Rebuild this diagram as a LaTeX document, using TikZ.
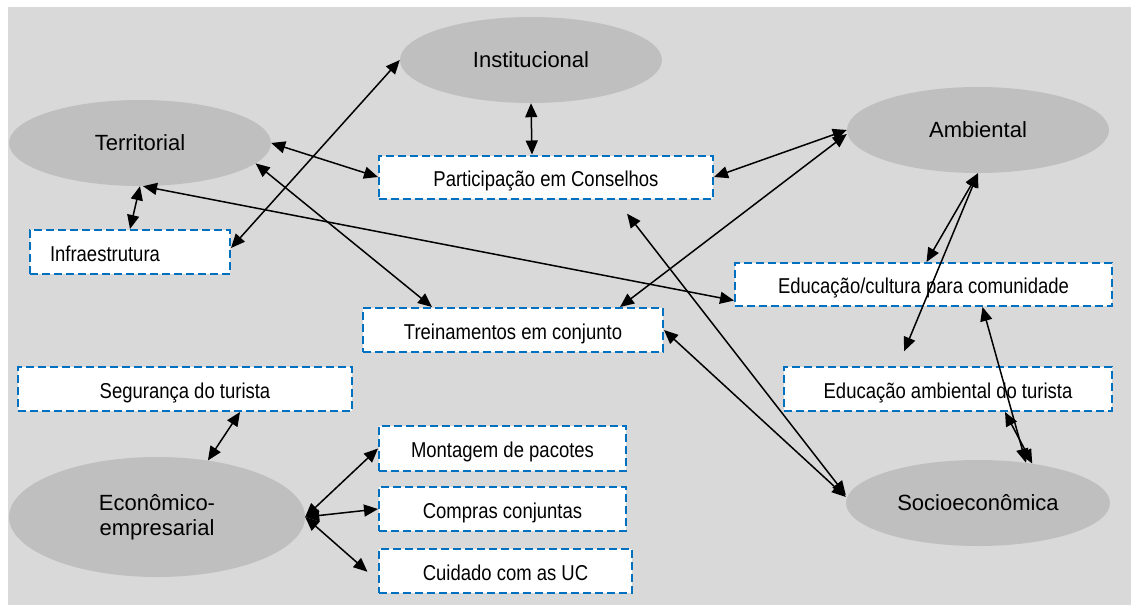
\documentclass[tikz,border=0pt]{standalone}
\usepackage{fontspec}
\setmainfont{Liberation Sans}
\newfontfamily\boxfont[FakeStretch=0.86]{Liberation Sans}
\usetikzlibrary{arrows.meta,shapes.geometric}
\definecolor{bggray}{HTML}{D9D9D9}
\definecolor{dimgray}{HTML}{BFBFBF}
\definecolor{dashblue}{HTML}{0070C0}

\begin{document}
\begin{tikzpicture}[x=1pt,y=-1pt,
  dim/.style={ellipse,fill=dimgray,inner sep=0pt,font=\fontsize{22}{25}\selectfont},
  item/.style={draw=dashblue,fill=white,line width=2pt,dash pattern=on 8pt off 4pt,
    inner sep=0pt,minimum height=44pt,text height=19pt,text depth=1pt,
    font=\boxfont\fontsize{21.5}{24}\selectfont},
  link/.style={{Triangle[length=14pt,width=12pt]}-{Triangle[length=14pt,width=12pt]},line width=1.5pt}]
  \useasboundingbox (0,0) rectangle (1131,605);
  \fill[bggray] (8,7) rectangle (1131,605);

  % dimensoes
  \node[dim,minimum width=262pt,minimum height=86pt] (inst) at (531,60) {Institucional};
  \node[dim,minimum width=262pt,minimum height=86pt] (terr) at (140,143) {Territorial};
  \node[dim,minimum width=262pt,minimum height=86pt] (amb) at (978,130) {Ambiental};
  \node[dim,minimum width=264pt,minimum height=86pt] (socio) at (978,503) {Socioeconômica};
  \node[dim,minimum width=296pt,minimum height=120pt,align=center] (econ) at (157,517) {Econômico-\\empresarial};

  % acoes
  \node[item,minimum width=334pt,minimum height=43pt] (conselhos) at (546,177) {Participação em Conselhos};
  \node[item,text width=160pt,inner xsep=20pt,align=left] (infra) at (130,252) {Infraestrutura};
  \node[item,minimum width=377pt,minimum height=43pt] (educom) at (923.5,284.5) {Educação/cultura para comunidade};
  \node[item,minimum width=328pt] (edutur) at (948,389) {Educação ambiental do turista};
  \node[item,minimum width=300pt] (trein) at (513,330) {Treinamentos em conjunto};
  \node[item,minimum width=334pt] (seg) at (185,389) {Segurança do turista};
  \node[item,minimum width=247pt,minimum height=45pt] (pacotes) at (502.5,448.5) {Montagem de pacotes};
  \node[item,minimum width=247pt] (compras) at (502.5,509) {Compras conjuntas};
  \node[item,minimum width=253pt] (cuidado) at (505.5,571) {Cuidado com as UC};

  % ligacoes
  \draw[link] (inst.west) -- ([yshift=4pt]infra.east);
  \draw[link] (terr.east) -- (conselhos.west);
  \draw[link] (terr.-10) -- ([xshift=-81pt]trein.north);
  \draw[link] ([xshift=3pt]terr.south) -- ([yshift=-16pt]educom.west);
  \draw[link] (terr.south) -- (infra.north);
  \draw[link] (inst.south) -- ([xshift=-14pt]conselhos.north);
  \draw[link] (amb.west) -- (conselhos.east);
  \draw[link] ([yshift=-4pt]amb.west) -- ([xshift=107pt]trein.north);
  \draw[link,shorten <=18pt] ([xshift=70pt]conselhos.south) -- ([yshift=8pt]socio.west);
  \draw[link] (trein.east) -- ([yshift=6pt]socio.west);
  \draw[link] (amb.south) -- ([xshift=3pt]educom.north);
  \draw[link,shorten >=16pt] (amb.south) -- ([xshift=-50pt]edutur.north);
  \draw[link] ([xshift=59pt]educom.south) -- (socio.40);
  \draw[link] ([xshift=57pt]edutur.south) -- (socio.36);
  \draw[link] ([xshift=55pt]seg.south) -- (econ.48);
  \draw[link] (econ.east) -- (pacotes.west);
  \draw[link] (econ.east) -- (compras.west);
  \draw[link,shorten >=14pt] (econ.east) -- ([yshift=-10pt]cuidado.west);
\end{tikzpicture}
\end{document}
